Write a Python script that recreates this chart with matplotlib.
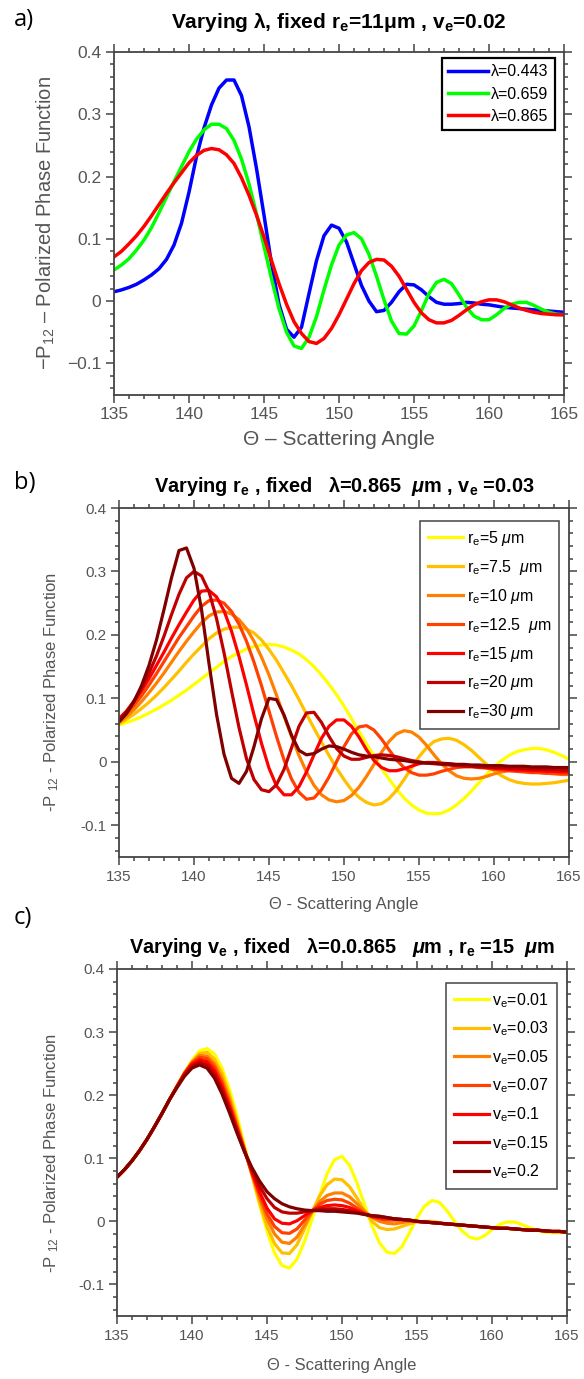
import numpy as np
import matplotlib
matplotlib.use("Agg")
import matplotlib.pyplot as plt
from matplotlib.ticker import MultipleLocator

plt.rcParams['font.family'] = ['Liberation Sans', 'DejaVu Sans']
plt.rcParams['mathtext.fontset'] = 'custom'
plt.rcParams['mathtext.rm'] = 'Liberation Sans'
plt.rcParams['mathtext.it'] = 'Liberation Sans:italic'
plt.rcParams['mathtext.bf'] = 'Liberation Sans:bold'
plt.rcParams['mathtext.bfit'] = 'Liberation Sans:italic:bold'

theta = np.arange(135, 165.01, 0.5)

# ---- panel a: varying wavelength (re=11um, ve=0.02)
lam_labels = ["λ=0.443", "λ=0.659", "λ=0.865"]
lam_colors = ["#0000ff", "#00ff00", "#ff0000"]
p12_443 = [0.015, 0.018, 0.022, 0.027, 0.034, 0.042, 0.052, 0.067, 0.09, 0.125,
           0.175, 0.232, 0.278, 0.315, 0.342, 0.355, 0.355, 0.33, 0.28, 0.213,
           0.138, 0.06, -0.005, -0.045, -0.058, -0.042, 0.012, 0.065, 0.105, 0.122,
           0.117, 0.095, 0.06, 0.025, 0.0, -0.017, -0.015, -0.002, 0.015, 0.027,
           0.026, 0.018, 0.007, -0.002, -0.005, -0.005, -0.004, -0.002, -0.003, -0.005,
           -0.006, -0.008, -0.01, -0.011, -0.012, -0.013, -0.014, -0.015, -0.016, -0.017, -0.018]
p12_659 = [0.05, 0.058, 0.068, 0.082, 0.098, 0.118, 0.142, 0.167, 0.192, 0.216,
           0.24, 0.26, 0.275, 0.284, 0.284, 0.277, 0.258, 0.228, 0.188, 0.14,
           0.088, 0.036, -0.012, -0.05, -0.072, -0.076, -0.058, -0.025, 0.018, 0.058,
           0.09, 0.106, 0.11, 0.1, 0.075, 0.04, 0.002, -0.032, -0.052, -0.053,
           -0.04, -0.015, 0.012, 0.03, 0.035, 0.028, 0.01, -0.01, -0.024, -0.03,
           -0.03, -0.022, -0.012, -0.005, -0.002, -0.002, -0.007, -0.013, -0.018, -0.021, -0.022]
p12_865 = [0.071, 0.08, 0.092, 0.105, 0.12, 0.137, 0.155, 0.173, 0.19, 0.206,
           0.222, 0.234, 0.242, 0.245, 0.243, 0.235, 0.221, 0.198, 0.17, 0.138,
           0.103, 0.065, 0.028, -0.005, -0.033, -0.052, -0.065, -0.068, -0.06, -0.044,
           -0.022, 0.003, 0.028, 0.049, 0.062, 0.067, 0.066, 0.056, 0.04, 0.019,
           -0.002, -0.019, -0.03, -0.035, -0.035, -0.031, -0.023, -0.014, -0.006, -0.001,
           0.002, 0.002, -0.001, -0.006, -0.011, -0.015, -0.018, -0.02, -0.021, -0.022, -0.022]

# ---- panel b: varying effective radius (lambda=0.865, ve=0.03)
re_labels = [r"r$_\mathrm{e}$=5 $\mu$m", r"r$_\mathrm{e}$=7.5  $\mu$m", r"r$_\mathrm{e}$=10 $\mu$m",
             r"r$_\mathrm{e}$=12.5  $\mu$m", r"r$_\mathrm{e}$=15 $\mu$m", r"r$_\mathrm{e}$=20 $\mu$m",
             r"r$_\mathrm{e}$=30 $\mu$m"]
heat_colors = ["#ffff00", "#ffc000", "#ff8000", "#ff4000", "#ff0000", "#c00000", "#800000"]
re_5 = [0.058, 0.062, 0.066, 0.071, 0.077, 0.083, 0.09, 0.097, 0.105, 0.113,
        0.122, 0.131, 0.14, 0.149, 0.158, 0.166, 0.172, 0.178, 0.182, 0.184,
        0.185, 0.184, 0.181, 0.176, 0.17, 0.161, 0.15, 0.137, 0.122, 0.106,
        0.088, 0.068, 0.048, 0.028, 0.009, -0.01, -0.027, -0.043, -0.057, -0.068,
        -0.076, -0.081, -0.082, -0.081, -0.076, -0.068, -0.058, -0.046, -0.033, -0.02,
        -0.008, 0.002, 0.01, 0.016, 0.019, 0.021, 0.021, 0.019, 0.015, 0.01, 0.004]
re_7p5 = [0.06, 0.067, 0.075, 0.084, 0.094, 0.105, 0.117, 0.13, 0.143, 0.157,
          0.17, 0.182, 0.194, 0.203, 0.209, 0.212, 0.212, 0.209, 0.203, 0.192,
          0.177, 0.16, 0.14, 0.12, 0.098, 0.075, 0.053, 0.031, 0.01, -0.01,
          -0.028, -0.044, -0.056, -0.064, -0.068, -0.066, -0.058, -0.045, -0.028, -0.01,
          0.008, 0.022, 0.032, 0.036, 0.037, 0.034, 0.027, 0.018, 0.007, -0.004,
          -0.014, -0.022, -0.028, -0.032, -0.034, -0.035, -0.035, -0.034, -0.033, -0.031, -0.029]
re_10 = [0.062, 0.071, 0.082, 0.095, 0.109, 0.124, 0.14, 0.157, 0.174, 0.19,
         0.205, 0.219, 0.23, 0.236, 0.237, 0.233, 0.224, 0.21, 0.19, 0.165,
         0.137, 0.105, 0.072, 0.04, 0.01, -0.016, -0.037, -0.052, -0.06, -0.063,
         -0.061, -0.053, -0.04, -0.023, -0.004, 0.015, 0.032, 0.044, 0.049, 0.047,
         0.039, 0.026, 0.011, -0.003, -0.014, -0.022, -0.026, -0.027, -0.026, -0.023,
         -0.019, -0.016, -0.014, -0.014, -0.015, -0.016, -0.017, -0.018, -0.019, -0.02, -0.02]
re_12p5 = [0.065, 0.076, 0.089, 0.104, 0.121, 0.139, 0.158, 0.177, 0.196, 0.213,
           0.23, 0.245, 0.254, 0.255, 0.25, 0.237, 0.217, 0.19, 0.157, 0.12,
           0.08, 0.04, 0.003, -0.027, -0.048, -0.059, -0.057, -0.044, -0.024, 0.0,
           0.024, 0.044, 0.055, 0.057, 0.05, 0.036, 0.019, 0.003, -0.009, -0.017,
           -0.021, -0.021, -0.019, -0.015, -0.012, -0.009, -0.008, -0.008, -0.009, -0.01,
           -0.012, -0.013, -0.014, -0.015, -0.016, -0.017, -0.017, -0.018, -0.018, -0.019, -0.019]
re_15 = [0.068, 0.08, 0.095, 0.112, 0.131, 0.152, 0.173, 0.195, 0.216, 0.236,
         0.255, 0.269, 0.27, 0.26, 0.238, 0.206, 0.166, 0.121, 0.074, 0.029,
         -0.01, -0.038, -0.052, -0.052, -0.039, -0.016, 0.011, 0.037, 0.056, 0.066,
         0.066, 0.056, 0.039, 0.019, 0.002, -0.009, -0.014, -0.014, -0.011, -0.007,
         -0.003, -0.001, -0.001, -0.002, -0.003, -0.005, -0.006, -0.007, -0.008, -0.009,
         -0.01, -0.011, -0.012, -0.013, -0.013, -0.014, -0.014, -0.015, -0.015, -0.016, -0.016]
re_20 = [0.066, 0.079, 0.096, 0.116, 0.14, 0.167, 0.198, 0.232, 0.264, 0.29,
         0.3, 0.293, 0.268, 0.226, 0.172, 0.112, 0.054, 0.005, -0.028, -0.044,
         -0.047, -0.036, -0.012, 0.022, 0.056, 0.077, 0.078, 0.062, 0.04, 0.021,
         0.009, 0.004, 0.004, 0.007, 0.01, 0.011, 0.01, 0.008, 0.005, 0.002,
         0.0, -0.002, -0.003, -0.004, -0.005, -0.006, -0.007, -0.007, -0.008, -0.008,
         -0.009, -0.009, -0.01, -0.01, -0.011, -0.011, -0.012, -0.012, -0.012, -0.013, -0.013]
re_30 = [0.063, 0.076, 0.095, 0.12, 0.152, 0.192, 0.24, 0.29, 0.333, 0.337,
         0.305, 0.24, 0.155, 0.075, 0.012, -0.026, -0.034, -0.015, 0.024, 0.068,
         0.1, 0.098, 0.074, 0.042, 0.018, 0.011, 0.013, 0.02, 0.025, 0.024,
         0.02, 0.015, 0.011, 0.009, 0.008, 0.006, 0.004, 0.003, 0.002, 0.0,
         -0.001, -0.002, -0.002, -0.003, -0.003, -0.004, -0.004, -0.005, -0.005, -0.006,
         -0.006, -0.006, -0.007, -0.007, -0.007, -0.008, -0.008, -0.008, -0.009, -0.009, -0.009]

# ---- panel c: varying effective variance (lambda=0.865, re=15)
ve_labels = [r"v$_\mathrm{e}$=0.01", r"v$_\mathrm{e}$=0.03", r"v$_\mathrm{e}$=0.05", r"v$_\mathrm{e}$=0.07",
             r"v$_\mathrm{e}$=0.1", r"v$_\mathrm{e}$=0.15", r"v$_\mathrm{e}$=0.2"]
ve_01 = [0.07, 0.082, 0.096, 0.112, 0.13, 0.15, 0.171, 0.193, 0.215, 0.236,
         0.255, 0.27, 0.274, 0.265, 0.243, 0.209, 0.167, 0.12, 0.073, 0.027,
         -0.015, -0.05, -0.07, -0.074, -0.06, -0.032, 0.003, 0.04, 0.075, 0.098,
         0.103, 0.089, 0.061, 0.027, -0.007, -0.034, -0.049, -0.051, -0.04, -0.018,
         0.006, 0.024, 0.033, 0.03, 0.017, 0.0, -0.015, -0.025, -0.028, -0.023,
         -0.013, -0.005, -0.001, -0.001, -0.005, -0.01, -0.014, -0.017, -0.018, -0.018, -0.017]
ve_03 = [0.07, 0.082, 0.096, 0.112, 0.13, 0.15, 0.171, 0.193, 0.214, 0.235,
         0.253, 0.266, 0.268, 0.257, 0.234, 0.2, 0.159, 0.116, 0.073, 0.03,
         -0.008, -0.035, -0.05, -0.051, -0.037, -0.012, 0.015, 0.04, 0.058, 0.067,
         0.066, 0.055, 0.037, 0.017, 0.0, -0.01, -0.013, -0.012, -0.008, -0.004,
         -0.001, 0.0, 0.0, -0.002, -0.004, -0.005, -0.006, -0.007, -0.008, -0.009,
         -0.01, -0.011, -0.011, -0.012, -0.013, -0.014, -0.014, -0.015, -0.016, -0.016, -0.017]
ve_05 = [0.07, 0.082, 0.096, 0.112, 0.13, 0.15, 0.171, 0.193, 0.214, 0.235,
         0.252, 0.263, 0.262, 0.25, 0.226, 0.193, 0.154, 0.114, 0.075, 0.037,
         0.004, -0.02, -0.033, -0.035, -0.025, -0.006, 0.015, 0.031, 0.041, 0.045,
         0.045, 0.039, 0.028, 0.016, 0.006, 0.0, -0.003, -0.004, -0.002, 0.0,
         0.0, -0.001, -0.002, -0.003, -0.004, -0.005, -0.006, -0.007, -0.008, -0.009,
         -0.01, -0.011, -0.011, -0.012, -0.013, -0.014, -0.014, -0.015, -0.016, -0.016, -0.017]
ve_07 = [0.07, 0.082, 0.096, 0.112, 0.13, 0.15, 0.171, 0.193, 0.214, 0.235,
         0.251, 0.26, 0.258, 0.245, 0.22, 0.187, 0.15, 0.113, 0.076, 0.042,
         0.012, -0.008, -0.018, -0.019, -0.012, 0.002, 0.016, 0.027, 0.033, 0.035,
         0.034, 0.029, 0.021, 0.013, 0.007, 0.004, 0.002, 0.002, 0.002, 0.001,
         0.0, -0.001, -0.002, -0.003, -0.004, -0.005, -0.006, -0.007, -0.008, -0.009,
         -0.01, -0.011, -0.011, -0.012, -0.013, -0.014, -0.014, -0.015, -0.016, -0.016, -0.017]
ve_10 = [0.07, 0.082, 0.096, 0.112, 0.13, 0.15, 0.171, 0.193, 0.214, 0.234,
         0.249, 0.256, 0.253, 0.239, 0.214, 0.182, 0.147, 0.112, 0.078, 0.047,
         0.021, 0.004, -0.003, -0.004, 0.001, 0.009, 0.017, 0.022, 0.025, 0.026,
         0.025, 0.022, 0.017, 0.012, 0.008, 0.006, 0.005, 0.004, 0.003, 0.002,
         0.0, -0.001, -0.002, -0.003, -0.004, -0.005, -0.006, -0.007, -0.008, -0.009,
         -0.01, -0.011, -0.011, -0.012, -0.013, -0.014, -0.014, -0.015, -0.016, -0.016, -0.017]
ve_15 = [0.07, 0.082, 0.096, 0.112, 0.13, 0.15, 0.171, 0.193, 0.213, 0.232,
         0.246, 0.252, 0.248, 0.233, 0.208, 0.177, 0.143, 0.111, 0.082, 0.056,
         0.036, 0.022, 0.015, 0.013, 0.013, 0.015, 0.017, 0.019, 0.02, 0.02,
         0.019, 0.017, 0.014, 0.011, 0.009, 0.008, 0.006, 0.004, 0.003, 0.002,
         0.0, -0.001, -0.002, -0.003, -0.004, -0.005, -0.006, -0.007, -0.008, -0.009,
         -0.01, -0.011, -0.011, -0.012, -0.013, -0.014, -0.014, -0.015, -0.016, -0.016, -0.017]
ve_20 = [0.07, 0.082, 0.096, 0.112, 0.13, 0.15, 0.171, 0.193, 0.212, 0.23,
         0.243, 0.248, 0.243, 0.227, 0.202, 0.172, 0.14, 0.11, 0.085, 0.064,
         0.047, 0.036, 0.028, 0.023, 0.02, 0.018, 0.017, 0.017, 0.016, 0.016,
         0.015, 0.014, 0.013, 0.011, 0.009, 0.008, 0.006, 0.004, 0.003, 0.002,
         0.0, -0.001, -0.002, -0.003, -0.004, -0.005, -0.006, -0.007, -0.008, -0.009,
         -0.01, -0.011, -0.011, -0.012, -0.013, -0.014, -0.014, -0.015, -0.016, -0.016, -0.017]

xticks = [135, 140, 145, 150, 155, 160, 165]
yticks = [-0.1, 0, 0.1, 0.2, 0.3, 0.4]
ytick_labels_a = ["\u22120.1", "0", "0.1", "0.2", "0.3", "0.4"]
ytick_labels_bc = ["-0.1", "0", "0.1", "0.2", "0.3", "0.4"]

W, H = 584, 1379
fig = plt.figure(figsize=(W / 100, H / 100), dpi=100)


def px_axes(left, top, right, bottom):
    return fig.add_axes([left / W, 1 - bottom / H, (right - left) / W, (bottom - top) / H])


def style(ax, ylabels, fs):
    ax.set_xlim(135, 165)
    ax.set_ylim(-0.15, 0.4)
    ax.set_xticks(xticks)
    ax.set_yticks(yticks)
    ax.set_yticklabels(ylabels)
    ax.xaxis.set_minor_locator(MultipleLocator(1))
    ax.yaxis.set_minor_locator(MultipleLocator(0.02))
    ax.tick_params(which='both', direction='out', top=True, right=True,
                   color='#444444', labelcolor='#555555', labelsize=fs, width=1.1, pad=3)
    ax.tick_params(which='major', length=6)
    ax.tick_params(which='minor', length=3)
    for s in ax.spines.values():
        s.set_color('#444444')
        s.set_linewidth(1.3)


# ---------------- a)
ax1 = px_axes(114, 52, 564, 394.5)
for yv, lab, col in zip([p12_443, p12_659, p12_865], lam_labels, lam_colors):
    ax1.plot(theta, yv, color=col, lw=2.5, label=lab, solid_joinstyle='round')
style(ax1, ytick_labels_a, 12.5)
ax1.set_xlabel("Θ – Scattering Angle", fontsize=15, color='#555555', va='top')
ax1.xaxis.set_label_coords(0.5, -0.104)
ax1.set_ylabel(r"−P$_{\mathrm{12}}$ – Polarized Phase Function", fontsize=14.5, color='#555555')
ax1.yaxis.set_label_coords(-0.127, 0.5)
ax1.text(0.5, 1.07, r"Varying λ, fixed r$_\mathbf{e}$=11μm , v$_\mathbf{e}$=0.02",
         transform=ax1.transAxes, ha='center', va='baseline', fontsize=15, fontweight='bold')
leg = ax1.legend(loc='upper right', bbox_to_anchor=(0.98, 0.9825), borderaxespad=0,
                 fancybox=False, edgecolor='black', framealpha=1, fontsize=11.5,
                 handlelength=2.5, handletextpad=0.2, labelspacing=0.45, borderpad=0.4)
leg.get_frame().set_linewidth(1.6)
fig.text(14 / W, 1 - 20 / H, "a)", fontsize=17, family='Open Sans', va='center', ha='left')

# ---------------- b)
ax2 = px_axes(119, 508, 569, 857)
for yv, lab, col in zip([re_5, re_7p5, re_10, re_12p5, re_15, re_20, re_30], re_labels, heat_colors):
    ax2.plot(theta, yv, color=col, lw=2.3, label=lab, solid_joinstyle='round')
style(ax2, ytick_labels_bc, 11)
ax2.set_xlabel("Θ - Scattering Angle", fontsize=12, color='#555555', va='top')
ax2.xaxis.set_label_coords(0.5, -0.115)
ax2.set_ylabel(r"-P $_{\mathrm{12}}$ - Polarized Phase Function", fontsize=12, color='#555555')
ax2.yaxis.set_label_coords(-0.129, 0.473)
ax2.text(0.5, 1.046, r"Varying r$_\mathbf{e}$ , fixed   λ=0.865  $\mathbfit{\mu}$m , v$_\mathbf{e}$ =0.03",
         transform=ax2.transAxes, ha='center', va='baseline', fontsize=14.3, fontweight='bold')
leg = ax2.legend(loc='upper right', bbox_to_anchor=(0.978, 0.963), borderaxespad=0,
                 fancybox=False, edgecolor='#444444', framealpha=1, fontsize=11.5,
                 handlelength=2.2, handletextpad=0.2, labelspacing=0.62, borderpad=0.5)
leg.get_frame().set_linewidth(1.1)
fig.text(14 / W, 1 - 483 / H, "b)", fontsize=17, family='Open Sans', va='center', ha='left')

# ---------------- c)
ax3 = px_axes(117, 969, 567, 1316)
for yv, lab, col in zip([ve_01, ve_03, ve_05, ve_07, ve_10, ve_15, ve_20], ve_labels, heat_colors):
    ax3.plot(theta, yv, color=col, lw=2.3, label=lab, solid_joinstyle='round')
style(ax3, ytick_labels_bc, 11)
ax3.set_xlabel("Θ - Scattering Angle", fontsize=12, color='#555555', va='top')
ax3.xaxis.set_label_coords(0.5, -0.121)
ax3.set_ylabel(r"-P $_{\mathrm{12}}$ - Polarized Phase Function", fontsize=12, color='#555555')
ax3.yaxis.set_label_coords(-0.124, 0.471)
ax3.text(0.5, 1.046, r"Varying v$_\mathbf{e}$ , fixed   λ=0.0.865   $\mathbfit{\mu}$m , r$_\mathbf{e}$ =15  $\mathbfit{\mu}$m",
         transform=ax3.transAxes, ha='center', va='baseline', fontsize=14.3, fontweight='bold')
leg = ax3.legend(loc='upper right', bbox_to_anchor=(0.978, 0.96), borderaxespad=0,
                 fancybox=False, edgecolor='#444444', framealpha=1, fontsize=11.5,
                 handlelength=2.2, handletextpad=0.2, labelspacing=0.62, borderpad=0.5)
leg.get_frame().set_linewidth(1.1)
fig.text(14 / W, 1 - 918 / H, "c)", fontsize=17, family='Open Sans', va='center', ha='left')

fig.savefig("out.png", dpi=100)
